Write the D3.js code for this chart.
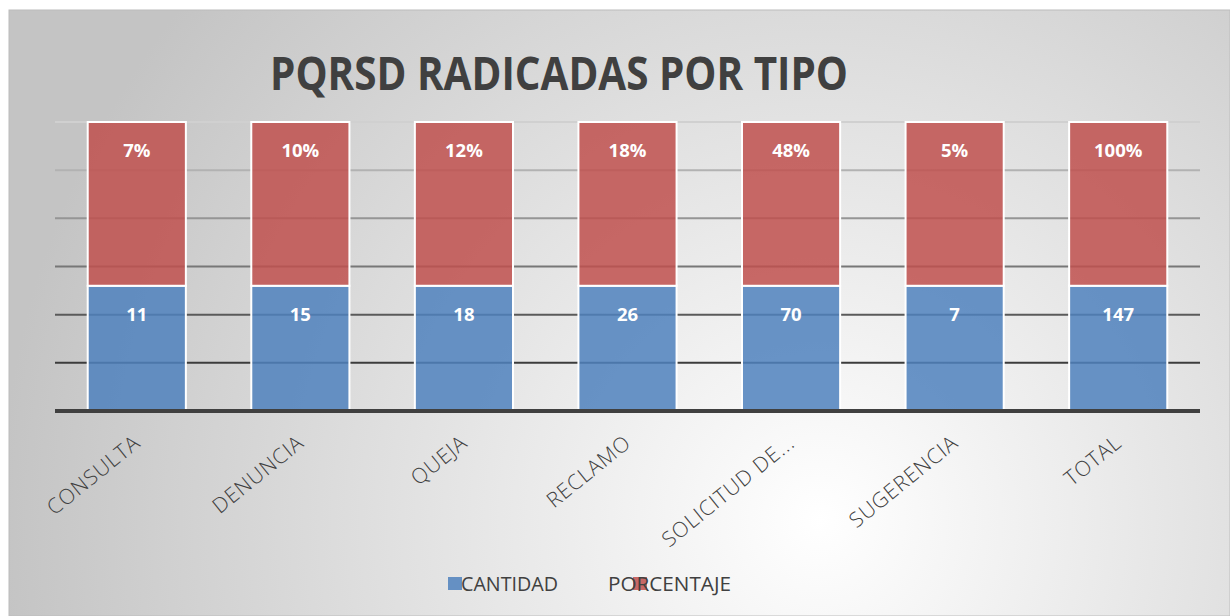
<!DOCTYPE html>
<html>
<head>
  <meta charset="UTF-8">
  <title>PQRSD radicadas por tipo</title>
  <script src="https://cdn.jsdelivr.net/npm/d3@7"></script>
  <style>
    body { margin: 0; background: #fff; }
    svg text { font-family: "Open Sans", "DejaVu Sans", sans-serif; }
  </style>
</head>
<body>
<div id="chart"></div>
<script>
// categorias y valores (etiquetas de datos)
var tipos = ["CONSULTA", "DENUNCIA", "QUEJA", "RECLAMO", "SOLICITUD DE...", "SUGERENCIA", "TOTAL"];
var cantidad = [11, 15, 18, 26, 70, 7, 147];
var porcentaje = ["7%", "10%", "12%", "18%", "48%", "5%", "100%"];
// altura con la que se dibuja cada segmento en el grafico original (todas iguales)
var alturaCantidad = [2.6, 2.6, 2.6, 2.6, 2.6, 2.6, 2.6];
var alturaPorcentaje = [3.4, 3.4, 3.4, 3.4, 3.4, 3.4, 3.4];
var ticks = [0, 1, 2, 3, 4, 5, 6];
var series = ["CANTIDAD", "PORCENTAJE"];

var W = 1230, H = 616;
var svg = d3.select("#chart").append("svg").attr("width", W).attr("height", H);

// fondo con degradado radial
var defs = svg.append("defs");
var rg = defs.append("radialGradient").attr("id", "bg")
  .attr("gradientUnits", "userSpaceOnUse")
  .attr("cx", 820).attr("cy", 520).attr("r", 820);
rg.append("stop").attr("offset", "0%").attr("stop-color", "#ffffff");
rg.append("stop").attr("offset", "100%").attr("stop-color", "#c4c4c4");

svg.append("rect").attr("x", 9).attr("y", 10).attr("width", W - 9).attr("height", H - 10)
  .attr("fill", "url(#bg)").attr("stroke", "#bcbcbc").attr("stroke-width", 1);

var x = d3.scaleBand().domain(tipos).range([55, 1200]).paddingInner(0.4).paddingOuter(0.2);
var y = d3.scaleLinear().domain([0, 6]).range([411, 122]);

// lineas de division, mas oscuras hacia abajo
var gridColor = d3.scaleLinear().domain([6, 1]).range(["#d0d0d0", "#3c3c3c"]);
svg.append("g").selectAll("line").data(ticks.filter(function (t) { return t > 0; }))
  .join("line")
  .attr("x1", 55).attr("x2", 1200)
  .attr("y1", function (d) { return y(d); }).attr("y2", function (d) { return y(d); })
  .attr("stroke", function (d) { return gridColor(d); })
  .attr("stroke-width", 2);

// barras apiladas
var datos = tipos.map(function (t, i) {
  return { tipo: t, CANTIDAD: alturaCantidad[i], PORCENTAJE: alturaPorcentaje[i] };
});
var stack = d3.stack().keys(series)(datos);
var colores = { CANTIDAD: "#4F81BD", PORCENTAJE: "#C0504D" };

svg.append("g").selectAll("g").data(stack).join("g")
  .attr("fill", function (s) { return colores[s.key]; })
  .attr("fill-opacity", 0.85)
  .selectAll("rect").data(function (s) { return s; }).join("rect")
  .attr("x", function (d) { return x(d.data.tipo); })
  .attr("width", x.bandwidth())
  .attr("y", function (d) { return y(d[1]); })
  .attr("height", function (d) { return y(d[0]) - y(d[1]); })
  .attr("stroke", "#ffffff").attr("stroke-width", 2);

// eje horizontal
svg.append("line").attr("x1", 55).attr("x2", 1200)
  .attr("y1", y(0)).attr("y2", y(0))
  .attr("stroke", "#404040").attr("stroke-width", 4);

// etiquetas de datos
var etq = svg.append("g").attr("fill", "#fff").attr("font-weight", 700)
  .attr("font-size", 18.5).attr("text-anchor", "middle");
etq.selectAll("text.c").data(tipos).join("text").attr("class", "c")
  .attr("x", function (d) { return x(d) + x.bandwidth() / 2; })
  .attr("y", y(2) + 6)
  .text(function (d, i) { return cantidad[i]; });
etq.selectAll("text.p").data(tipos).join("text").attr("class", "p")
  .attr("x", function (d) { return x(d) + x.bandwidth() / 2; })
  .attr("y", y(5.4) + 6)
  .text(function (d, i) { return porcentaje[i]; });

// etiquetas de categoria giradas
svg.append("g").selectAll("text").data(tipos).join("text")
  .attr("transform", function (d) {
    return "translate(" + (x(d) + x.bandwidth() / 2 - 5) + ",433) rotate(-39)";
  })
  .attr("text-anchor", "end")
  .attr("dy", "0.75em")
  .attr("font-size", 21)
  .attr("font-weight", 300)
  .attr("letter-spacing", 0.9)
  .attr("fill", "#404040")
  .text(function (d) { return d; });

// titulo
svg.append("text")
  .attr("x", 559).attr("y", 90)
  .attr("text-anchor", "middle")
  .attr("font-size", 47).attr("font-weight", 700)
  .attr("fill", "#404040")
  .attr("textLength", 578).attr("lengthAdjust", "spacingAndGlyphs")
  .text("PQRSD RADICADAS POR TIPO");

// leyenda
var leg = [{ key: "CANTIDAD", mx: 448, tx: 461, w: 97 }, { key: "PORCENTAJE", mx: 633, tx: 608, w: 123 }];
var lg = svg.append("g");
lg.selectAll("rect").data(leg).join("rect")
  .attr("x", function (d) { return d.mx; }).attr("y", 577)
  .attr("width", 14).attr("height", 13)
  .attr("fill", function (d) { return colores[d.key]; }).attr("fill-opacity", 0.85);
lg.selectAll("text").data(leg).join("text")
  .attr("x", function (d) { return d.tx; }).attr("y", 591)
  .attr("font-size", 20).attr("fill", "#404040")
  .attr("textLength", function (d) { return d.w; }).attr("lengthAdjust", "spacingAndGlyphs")
  .text(function (d) { return d.key; });
</script>
</body>
</html>
